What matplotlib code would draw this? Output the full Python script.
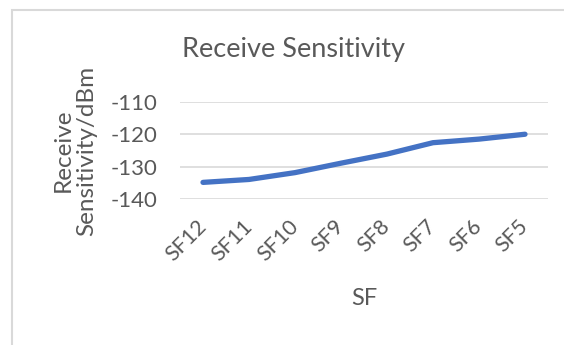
import matplotlib.pyplot as plt
from matplotlib.patches import Rectangle

# receive sensitivity per spreading factor
sf_labels = ['SF12', 'SF11', 'SF10', 'SF9', 'SF8', 'SF7', 'SF6', 'SF5']
sensitivity_dbm = [-134.8, -133.9, -131.8, -128.9, -126.1, -122.6, -121.5, -120.0]
y_ticks = [-110, -120, -130, -140]

text_grey = '#595959'
grid_grey = '#d9d9d9'
line_blue = '#4472c4'

plt.rcParams['font.family'] = ['Lato', 'DejaVu Sans']
plt.rcParams['axes.unicode_minus'] = False

W, H = 564, 345
fig = plt.figure(figsize=(W / 100, H / 100), dpi=100)

# chart area frame (runs off the right and bottom edges)
fig.patches.append(Rectangle((12 / W, -0.1), 1.0, 1 - 10 / H + 0.1,
                             transform=fig.transFigure, fill=False,
                             edgecolor=grid_grey, linewidth=1.5))

ax = fig.add_axes([180 / W, 1 - 199.3 / H, 368 / W, 97.6 / H])
x = range(len(sf_labels))
ax.plot(x, sensitivity_dbm, color=line_blue, linewidth=3.8,
        solid_capstyle='round', solid_joinstyle='round', zorder=3)

ax.set_xlim(-0.5, len(sf_labels) - 0.5)
ax.set_ylim(-140, -110)
ax.set_yticks(y_ticks)
ax.yaxis.grid(True, color=grid_grey, linewidth=1.2)
ax.set_axisbelow(True)
for s in ax.spines.values():
    s.set_visible(False)
ax.tick_params(length=0, colors=text_grey)
ax.tick_params(axis='y', labelsize=16, pad=16)

ax.set_xticks(list(x))
ax.set_xticklabels(sf_labels, rotation=45, ha='right', va='center',
                   rotation_mode='anchor', fontsize=15.5, color=text_grey)
ax.tick_params(axis='x', pad=17)

ax.set_xlabel('SF', fontsize=17, color=text_grey, labelpad=17)
ax.set_ylabel('Receive\nSensitivity/dBm', fontsize=17.5, color=text_grey,
              labelpad=10, linespacing=1.15)

fig.text(294 / W, 1 - 49 / H, 'Receive Sensitivity', ha='center', va='center',
         fontsize=19.5, color=text_grey)

fig.savefig('out.png', dpi=100)
